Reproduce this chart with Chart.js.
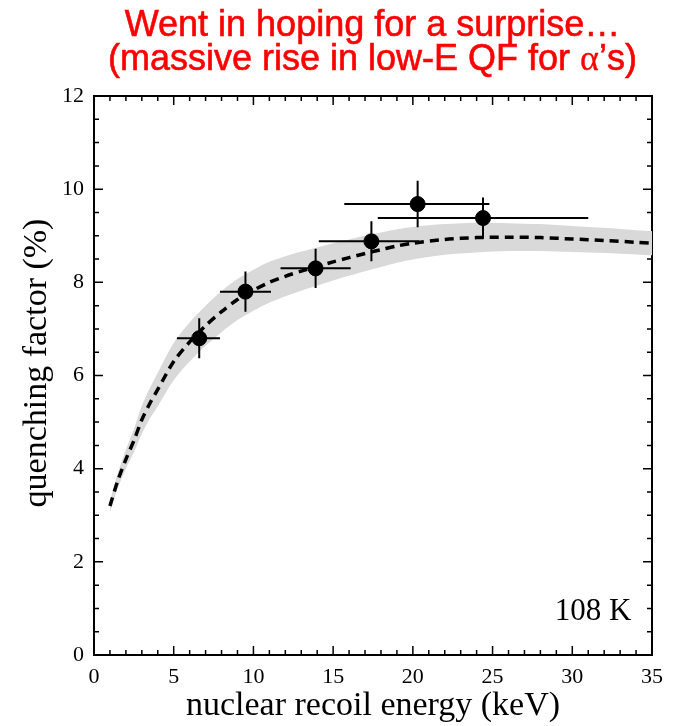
<!DOCTYPE html>
<html>
<head>
<meta charset="utf-8">
<script src="https://cdn.jsdelivr.net/npm/chart.js@4"></script>
<style>
  html, body { margin: 0; padding: 0; background: #fff; }
  #wrap { position: relative; width: 675px; height: 726px; }
  #title {
    position: absolute; left: 0; top: 7px; width: 675px; padding-left: 70px; box-sizing: border-box;
    text-align: center; color: #ff0000; font-family: "Liberation Sans", Arial, sans-serif;
    font-size: 36px; line-height: 34px; z-index: 2;
    -webkit-text-stroke: 0.6px #ff0000;
  }
  #title .alpha { font-family: "Liberation Serif", serif; -webkit-text-stroke: 0.3px #ff0000; }
  canvas { position: absolute; left: 0; top: 0; }
</style>
</head>
<body>
<div id="wrap">
  <div id="title">Went in hoping for a surprise…<br>(massive rise in low-E QF for <span class="alpha">α</span>’s)</div>
  <canvas id="qfChart" width="675" height="726"></canvas>
</div>
<script>
// fit curve (dashed) and its uncertainty band
const curveE = [1, 1.5, 2, 2.5, 3, 3.5, 4, 5, 6, 7, 8, 9, 10, 11, 12, 13, 14, 15, 16, 17, 18, 19, 20, 22, 24, 26, 28, 30, 32, 34, 35];
const curveQF = [3.2, 3.75, 4.2, 4.6, 5.05, 5.4, 5.7, 6.3, 6.72, 7.07, 7.37, 7.63, 7.83, 8.0, 8.13, 8.24, 8.34, 8.44, 8.53, 8.62, 8.70, 8.78, 8.84, 8.92, 8.96, 8.97, 8.96, 8.93, 8.90, 8.86, 8.84];
const bandUpper = [3.30, 3.91, 4.40, 4.85, 5.35, 5.73, 6.06, 6.70, 7.14, 7.50, 7.81, 8.07, 8.27, 8.44, 8.56, 8.66, 8.75, 8.84, 8.92, 9.00, 9.07, 9.14, 9.19, 9.25, 9.28, 9.27, 9.25, 9.21, 9.17, 9.12, 9.10];
const bandLower = [3.06, 3.59, 4.00, 4.35, 4.75, 5.07, 5.34, 5.90, 6.30, 6.64, 6.93, 7.19, 7.39, 7.56, 7.70, 7.82, 7.93, 8.04, 8.14, 8.24, 8.33, 8.42, 8.49, 8.59, 8.64, 8.67, 8.67, 8.65, 8.63, 8.60, 8.58];

// measured points at 108 K
const pointE = [6.6, 9.5, 13.9, 17.4, 20.3, 24.4];
const pointQF = [6.8, 7.8, 8.3, 8.88, 9.68, 9.38];
const pointELow = [5.2, 7.9, 11.7, 14.1, 15.7, 17.8];
const pointEHigh = [7.9, 11.1, 16.1, 20.4, 24.8, 31.0];
const pointQFErr = [0.43, 0.43, 0.42, 0.43, 0.5, 0.44];

const xTicks = [0, 5, 10, 15, 20, 25, 30, 35];
const yTicks = [0, 2, 4, 6, 8, 10, 12];
const tempLabel = '108 K';
const yTitle = 'quenching factor (%)';

const serif = '"Liberation Serif", "Times New Roman", serif';

const toXY = (xs, ys) => xs.map((x, i) => ({ x: x, y: ys[i] }));

// frame + inward ticks on all four sides, error bars, labels
const framePlugin = {
    id: 'frame',
    beforeDatasetsDraw(chart) {
        const { ctx, chartArea: a, scales: { x, y } } = chart;
        ctx.save();
        ctx.strokeStyle = '#000';
        ctx.lineWidth = 1.5;
        for (let v = 0; v <= 35; v += 1) {
            const px = x.getPixelForValue(v);
            const len = v % 5 === 0 ? 9 : 5;
            ctx.beginPath();
            ctx.moveTo(px, a.bottom); ctx.lineTo(px, a.bottom - len);
            ctx.moveTo(px, a.top); ctx.lineTo(px, a.top + len);
            ctx.stroke();
        }
        for (let v = 0; v <= 12; v += 0.5) {
            const py = y.getPixelForValue(v);
            const len = v % 2 === 0 ? 9 : 5;
            ctx.beginPath();
            ctx.moveTo(a.left, py); ctx.lineTo(a.left + len, py);
            ctx.moveTo(a.right, py); ctx.lineTo(a.right - len, py);
            ctx.stroke();
        }
        ctx.lineWidth = 2;
        ctx.strokeRect(a.left, a.top, a.right - a.left, a.bottom - a.top);

        // y axis title
        ctx.fillStyle = '#000';
        ctx.font = '34px ' + serif;
        ctx.textAlign = 'center';
        ctx.textBaseline = 'middle';
        ctx.translate(37, 363);
        ctx.rotate(-Math.PI / 2);
        ctx.fillText(yTitle, 0, 0);
        ctx.restore();
    },
    afterDatasetsDraw(chart) {
        const { ctx, scales: { x, y } } = chart;
        ctx.save();
        ctx.strokeStyle = '#000';
        ctx.lineWidth = 2;
        pointE.forEach((e, i) => {
            const px = x.getPixelForValue(e);
            const py = y.getPixelForValue(pointQF[i]);
            ctx.beginPath();
            ctx.moveTo(x.getPixelForValue(pointELow[i]), py);
            ctx.lineTo(x.getPixelForValue(pointEHigh[i]), py);
            ctx.moveTo(px, y.getPixelForValue(pointQF[i] - pointQFErr[i]));
            ctx.lineTo(px, y.getPixelForValue(pointQF[i] + pointQFErr[i]));
            ctx.stroke();
        });
        ctx.fillStyle = '#000';
        ctx.font = '31px ' + serif;
        ctx.textAlign = 'right';
        ctx.textBaseline = 'middle';
        ctx.fillText(tempLabel, x.getPixelForValue(33.7), y.getPixelForValue(0.92));
        ctx.restore();
    }
};

const ctx = document.getElementById('qfChart').getContext('2d');
new Chart(ctx, {
    type: 'scatter',
    data: {
        datasets: [
            {
                type: 'line',
                data: toXY(curveE, bandUpper),
                borderWidth: 0,
                pointRadius: 0,
                backgroundColor: '#d9d9d9',
                fill: '+1',
                tension: 0.3,
                order: 3
            },
            {
                type: 'line',
                data: toXY(curveE, bandLower),
                borderWidth: 0,
                pointRadius: 0,
                fill: false,
                tension: 0.3,
                order: 3
            },
            {
                type: 'line',
                data: toXY(curveE, curveQF),
                borderColor: '#000',
                borderWidth: 3.5,
                borderDash: [9, 6],
                pointRadius: 0,
                fill: false,
                tension: 0.3,
                order: 2
            },
            {
                data: toXY(pointE, pointQF),
                backgroundColor: '#000',
                borderColor: '#000',
                pointRadius: 7.5,
                order: 1
            }
        ]
    },
    options: {
        responsive: false,
        animation: false,
        layout: { padding: { top: 96, right: 23, left: 0, bottom: 0 } },
        plugins: {
            legend: { display: false },
            tooltip: { enabled: false }
        },
        scales: {
            x: {
                type: 'linear',
                min: 0,
                max: 35,
                afterBuildTicks: s => { s.ticks = xTicks.map(v => ({ value: v })); },
                afterFit: s => { s.height = 71; },
                grid: { display: false, drawTicks: false },
                border: { display: false },
                ticks: { color: '#000', font: { family: serif, size: 22 }, padding: 9, maxRotation: 0 },
                title: { display: true, text: 'nuclear recoil energy (keV)', color: '#000', font: { family: serif, size: 34 }, padding: 0 }
            },
            y: {
                type: 'linear',
                min: 0,
                max: 12,
                afterBuildTicks: s => { s.ticks = yTicks.map(v => ({ value: v })); },
                afterFit: s => { s.width = 94; },
                grid: { display: false, drawTicks: false },
                border: { display: false },
                ticks: { color: '#000', font: { family: serif, size: 22 }, padding: 10 },
                title: { display: false }
            }
        }
    },
    plugins: [framePlugin]
});
</script>
</body>
</html>
